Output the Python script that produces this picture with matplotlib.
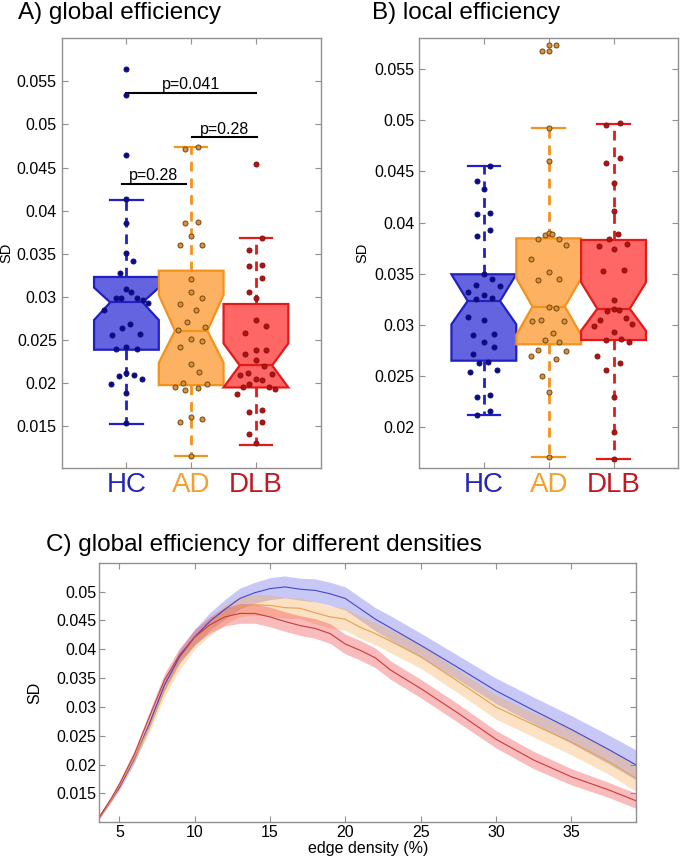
import numpy as np
import matplotlib.pyplot as plt

plt.rcParams['font.family'] = ['Liberation Sans', 'DejaVu Sans']

groups = ['HC', 'AD', 'DLB']
group_pos = [1, 2, 3]

# A) global efficiency - box statistics
a_q1 = [0.02384, 0.01973, 0.01946]
a_med = [0.02934, 0.02605, 0.02202]
a_q3 = [0.03229, 0.03302, 0.02915]
a_lo = [0.01527, 0.01155, 0.01283]
a_hi = [0.04128, 0.04736, 0.03682]
a_cilo = [0.02729, 0.02233, 0.01946]
a_cihi = [0.03105, 0.03020, 0.02457]

# A) subjects (jitter offset, value)
a_hc_off = [0, 0, 0, 0, 0, 0, 0.10, -0.10, 0, 0.07, -0.165, -0.08, 0.165, 0.26, 0.34,
            -0.34, -0.07, 0.06, -0.22, 0.21, -0.165, 0, 0.165, 0, -0.12, 0.11, 0.24, -0.24, 0, 0]
a_hc_val = [0.0564, 0.0534, 0.0465, 0.0413, 0.0386, 0.0351, 0.0342, 0.0327, 0.0309, 0.0306,
            0.0298, 0.0299, 0.0299, 0.0296, 0.0293, 0.0285, 0.0264, 0.0268, 0.0255, 0.0257,
            0.0239, 0.0241, 0.0239, 0.0211, 0.0208, 0.0209, 0.0204, 0.0199, 0.0188, 0.0153]
a_ad_off = [-0.10, 0.11, -0.10, 0.10, 0, -0.165, 0.16, 0, 0, 0.165, -0.17, 0.067, -0.07,
            -0.21, 0.21, 0, 0.16, -0.165, 0, 0.12, -0.12, -0.25, 0.24, -0.10, 0.10, -0.165, 0, 0.165, 0]
a_ad_val = [0.0471, 0.0474, 0.0385, 0.0387, 0.0370, 0.0360, 0.0360, 0.0320, 0.0305, 0.0299,
            0.0292, 0.0284, 0.0271, 0.0261, 0.0265, 0.0251, 0.0249, 0.0242, 0.0222, 0.0212,
            0.0200, 0.0195, 0.0199, 0.0192, 0.0194, 0.0155, 0.0160, 0.0158, 0.0115]
a_dlb_off = [0, 0.10, -0.10, -0.10, 0.10, 0.10, -0.10, 0, 0, -0.17, 0.16, -0.17, 0, 0.16, 0,
             0.12, -0.24, -0.12, 0.25, 0, 0.09, -0.10, -0.20, 0.20, 0.30, -0.30, -0.10, 0.10, 0.10, -0.10, 0]
a_dlb_val = [0.0454, 0.0368, 0.0354, 0.0336, 0.0337, 0.0322, 0.0306, 0.0298, 0.0273, 0.0258,
             0.0266, 0.0233, 0.0238, 0.0238, 0.0226, 0.0220, 0.0209, 0.0211, 0.0210, 0.0204,
             0.0203, 0.0199, 0.0195, 0.0195, 0.0193, 0.0187, 0.0166, 0.0168, 0.0154, 0.0140, 0.0130]

# A) significance bars
sig_x0 = [1.0, 2.02, 0.93]
sig_x1 = [3.0, 3.02, 1.92]
sig_y = [0.0537, 0.0485, 0.0431]
sig_tx = [2.0, 2.51, 1.42]
sig_txt = ['p=0.041', 'p=0.28', 'p=0.28']

# B) local efficiency - box statistics
b_q1 = [0.02651, 0.02811, 0.02853]
b_med = [0.03234, 0.03179, 0.03158]
b_q3 = [0.03495, 0.03846, 0.03830]
b_lo = [0.02120, 0.01712, 0.01693]
b_hi = [0.04552, 0.04924, 0.04966]
b_cilo = [0.03006, 0.02902, 0.02944]
b_cihi = [0.03495, 0.03456, 0.03416]

b_hc_off = [0.10, -0.10, 0, -0.10, 0.10, -0.10, 0.10, 0, -0.25, -0.12, 0.12, 0.25, -0.12, 0,
            0.12, -0.25, 0, -0.16, 0.16, 0, 0.16, -0.16, -0.08, 0.07, -0.22, 0.21, -0.10, 0.10, 0.10, -0.10]
b_hc_val = [0.0455, 0.0441, 0.0433, 0.0408, 0.0409, 0.0387, 0.0393, 0.0350, 0.0332, 0.0339,
            0.0345, 0.0338, 0.0325, 0.0329, 0.0326, 0.0308, 0.0305, 0.0290, 0.0291, 0.0283,
            0.0278, 0.0272, 0.0263, 0.0264, 0.0254, 0.0256, 0.0230, 0.0232, 0.0216, 0.0212]
b_ad_off = [-0.11, 0, 0, 0.11, 0, 0, -0.16, -0.05, 0, 0.05, 0.16, 0.27, -0.27, -0.16, 0, 0.16,
            0, 0.11, -0.25, -0.12, 0.24, 0.06, -0.06, 0.16, -0.16, 0.27, -0.28, 0.11, -0.11, 0, 0]
b_ad_val = [0.0568, 0.0573, 0.0568, 0.0573, 0.0492, 0.0460, 0.0384, 0.0388, 0.0390, 0.0389,
            0.0384, 0.0378, 0.0364, 0.0344, 0.0352, 0.0345, 0.0318, 0.0317, 0.0304, 0.0305,
            0.0304, 0.0292, 0.0285, 0.0283, 0.0276, 0.0275, 0.0270, 0.0267, 0.0250, 0.0235, 0.0171]
b_dlb_off = [-0.11, 0.10, 0.10, -0.11, 0, 0, 0.07, -0.07, -0.22, 0, 0.21, -0.17, 0.16, 0, -0.10,
             0, 0.09, -0.21, -0.30, 0.19, 0.29, 0, -0.12, 0.12, 0.24, -0.25, 0.10, -0.11, 0, 0, 0]
b_dlb_val = [0.0495, 0.0497, 0.0463, 0.0458, 0.0439, 0.0411, 0.0389, 0.0384, 0.0377, 0.0374,
             0.0379, 0.0353, 0.0354, 0.0324, 0.0314, 0.0316, 0.0315, 0.0305, 0.0299, 0.0307,
             0.0301, 0.0293, 0.0285, 0.0286, 0.0283, 0.0270, 0.0263, 0.0256, 0.0230, 0.0195, 0.0169]

# C) global efficiency vs edge density
density = [3.67, 4.5, 5, 6, 7, 8, 9, 10, 11, 12, 13, 14, 15, 16, 17, 18, 19, 20, 21, 22, 23,
           25, 27.5, 30, 32.5, 35, 37.5, 39.33]
hc_mean = [0.0109, 0.0141, 0.0160, 0.0210, 0.0271, 0.0338, 0.0387, 0.0421, 0.0448, 0.0469,
           0.0488, 0.0498, 0.0505, 0.0508, 0.0504, 0.0502, 0.0496, 0.0488, 0.0470, 0.0452, 0.0437,
           0.0407, 0.0368, 0.0328, 0.0294, 0.0261, 0.0226, 0.0199]
ad_mean = [0.0109, 0.0141, 0.0163, 0.0212, 0.0266, 0.0329, 0.0378, 0.0414, 0.0439, 0.0460,
           0.0474, 0.0477, 0.0476, 0.0472, 0.0471, 0.0463, 0.0456, 0.0452, 0.0438, 0.0427, 0.0414,
           0.0387, 0.0344, 0.0300, 0.0269, 0.0239, 0.0205, 0.0176]
dlb_mean = [0.0109, 0.0143, 0.0166, 0.0218, 0.0283, 0.0347, 0.0390, 0.0421, 0.0442, 0.0456,
            0.0462, 0.0462, 0.0456, 0.0448, 0.0441, 0.0436, 0.0427, 0.0409, 0.0398, 0.0385, 0.0364,
            0.0332, 0.0289, 0.0244, 0.0208, 0.0179, 0.0156, 0.0137]
hc_err = [0.0003, 0.0004, 0.0005, 0.0007, 0.0008, 0.0010, 0.0012, 0.0014, 0.0015, 0.0017,
          0.0018, 0.0018, 0.0019, 0.0019, 0.0019, 0.0020, 0.0020, 0.0020, 0.0020, 0.0020, 0.0021,
          0.0021, 0.0021, 0.0022, 0.0023, 0.0024, 0.0025, 0.0026]
ad_err = [0.0003, 0.0004, 0.0005, 0.0007, 0.0009, 0.0011, 0.0013, 0.0014, 0.0015, 0.0017,
          0.0017, 0.0018, 0.0018, 0.0018, 0.0018, 0.0019, 0.0019, 0.0019, 0.0019, 0.0019, 0.0020,
          0.0020, 0.0020, 0.0021, 0.0021, 0.0022, 0.0022, 0.0023]
dlb_err = [0.0003, 0.0004, 0.0005, 0.0007, 0.0009, 0.0011, 0.0012, 0.0013, 0.0014, 0.0016,
           0.0017, 0.0017, 0.0017, 0.0017, 0.0017, 0.0017, 0.0017, 0.0017, 0.0017, 0.0017, 0.0016,
           0.0016, 0.0016, 0.0015, 0.0015, 0.0014, 0.0013, 0.0013]

a_yticks = [0.015, 0.02, 0.025, 0.03, 0.035, 0.04, 0.045, 0.05, 0.055]
a_ylabels = ['0.015', '0.02', '0.025', '0.03', '0.035', '0.04', '0.045', '0.05', '0.055']
b_yticks = [0.02, 0.025, 0.03, 0.035, 0.04, 0.045, 0.05, 0.055]
b_ylabels = ['0.02', '0.025', '0.03', '0.035', '0.04', '0.045', '0.05', '0.055']
c_yticks = [0.015, 0.02, 0.025, 0.03, 0.035, 0.04, 0.045, 0.05]
c_ylabels = ['0.015', '0.02', '0.025', '0.03', '0.035', '0.04', '0.045', '0.05']
c_xticks = [5, 10, 15, 20, 25, 30, 35]

box_face = ['#6464e0', '#fcb262', '#ff6666']
box_edge = ['#2020c4', '#f5921c', '#e31a1a']
dot_face = ['#0c0c82', '#d8913f', '#ae1414']
dot_edge = ['#0c0c82', '#74460e', '#8e0e0e']
label_col = ['#2424b8', '#f5a02c', '#c4161e']
band_col = ['#6464e6', '#f8aa50', '#ee3c3c']
line_col = ['#4646c8', '#e6a050', '#c83c3c']
spine_col = '#909090'


def style_axes(ax):
    for s in ax.spines.values():
        s.set_color(spine_col)
        s.set_linewidth(1.0)
    ax.tick_params(direction='in', top=True, right=True, length=4, color=spine_col,
                   labelsize=11.5)


def box_panel(ax, q1, med, q3, lo, hi, cilo, cihi, offs, vals):
    stats = []
    for i in range(3):
        stats.append(dict(med=med[i], q1=q1[i], q3=q3[i], whislo=lo[i], whishi=hi[i],
                          cilo=cilo[i], cihi=cihi[i], fliers=[]))
    for i in range(3):
        ax.bxp([stats[i]], positions=[group_pos[i]], widths=1.0, shownotches=True,
               patch_artist=True, showfliers=False,
               boxprops=dict(facecolor=box_face[i], edgecolor=box_edge[i], linewidth=1.6),
               whiskerprops=dict(color=box_edge[i], linewidth=2.0, linestyle=(0, (3.5, 2.5))),
               capprops=dict(color=box_edge[i], linewidth=1.6),
               medianprops=dict(color=box_edge[i], linewidth=1.6))
        x = group_pos[i] + np.array(offs[i])
        ax.scatter(x, vals[i], s=13, c=dot_face[i], edgecolors=dot_edge[i],
                   linewidths=0.7, zorder=5)
    ax.set_xlim(0, 4)
    ax.set_xticks(group_pos)
    ax.set_xticklabels(groups, fontsize=20)
    for lab, col in zip(ax.get_xticklabels(), label_col):
        lab.set_color(col)
    ax.tick_params(axis='x', labelsize=20, pad=3)
    ax.set_ylabel('SD', fontsize=10.5)


fig = plt.figure(figsize=(6.8, 8.58), dpi=100)

axA = fig.add_axes([0.0907, 0.4545, 0.3809, 0.5008])
style_axes(axA)
box_panel(axA, a_q1, a_med, a_q3, a_lo, a_hi, a_cilo, a_cihi,
          [a_hc_off, a_ad_off, a_dlb_off], [a_hc_val, a_ad_val, a_dlb_val])
axA.set_ylim(0.0101, 0.0600)
axA.set_yticks(a_yticks)
axA.set_yticklabels(a_ylabels)
axA.yaxis.set_label_coords(-0.185, 0.5)
for x0, x1, y, tx, t in zip(sig_x0, sig_x1, sig_y, sig_tx, sig_txt):
    axA.plot([x0, x1], [y, y], color='black', linewidth=1.5)
    axA.text(tx, y + 0.0001, t, ha='center', va='bottom', fontsize=11.5)

axB = fig.add_axes([0.6162, 0.4542, 0.3814, 0.5012])
style_axes(axB)
box_panel(axB, b_q1, b_med, b_q3, b_lo, b_hi, b_cilo, b_cihi,
          [b_hc_off, b_ad_off, b_dlb_off], [b_hc_val, b_ad_val, b_dlb_val])
axB.set_ylim(0.0160, 0.0580)
axB.set_yticks(b_yticks)
axB.set_yticklabels(b_ylabels)
axB.yaxis.set_label_coords(-0.19, 0.5)

axC = fig.add_axes([0.146, 0.0416, 0.790, 0.3026])
style_axes(axC)
for mean, err, bc, lc in zip([hc_mean, ad_mean, dlb_mean], [hc_err, ad_err, dlb_err],
                             band_col, line_col):
    m = np.array(mean)
    e = np.array(err)
    axC.fill_between(density, m - e, m + e, color=bc, alpha=0.35, linewidth=0)
    axC.plot(density, m, color=lc, linewidth=0.8)
axC.set_xlim(3.67, 39.33)
axC.set_ylim(0.0100, 0.0550)
axC.set_xticks(c_xticks)
axC.set_yticks(c_yticks)
axC.set_yticklabels(c_ylabels)
axC.tick_params(labelsize=11.5, pad=2)
axC.set_ylabel('SD', fontsize=11.5)
axC.yaxis.set_label_coords(-0.107, 0.5)
axC.set_xlabel('edge density (%)', fontsize=11.5, labelpad=1)

fig.text(18 / 680, 1 - 19.5 / 858, 'A) global efficiency', fontsize=17.5, va='baseline')
fig.text(372 / 680, 1 - 19.5 / 858, 'B) local efficiency', fontsize=17.5, va='baseline')
fig.text(46 / 680, 1 - 551 / 858, 'C) global efficiency for different densities',
         fontsize=17.5, va='baseline')

fig.savefig('out.png', dpi=100)
